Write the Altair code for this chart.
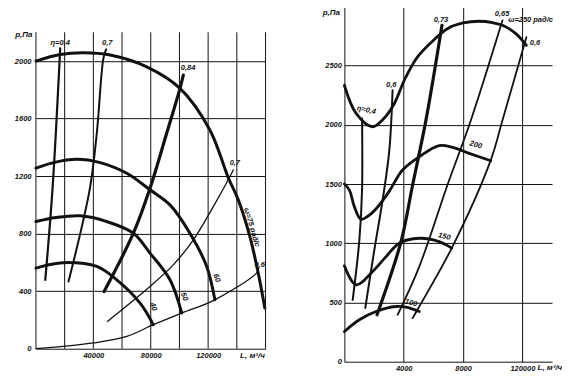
import altair as alt
import pandas as pd

FONT = "Liberation Sans"
INK = "#111111"

# ---------------- Left panel (L, m3/h ; p, Pa) ----------------
# pressure curves (omega = 75, 60, 50, 40 rad/s)
w75_L = [0, 16900, 33100, 51700, 77200, 100400, 121200, 134000, 141000, 149100, 154900, 159500]
w75_p = [2000, 2046, 2058, 2042, 1960, 1810, 1521, 1190, 1035, 780, 526, 283]
w60_L = [0, 12200, 28500, 44700, 63300, 79500, 93400, 107300, 119000, 124700]
w60_p = [1255, 1294, 1317, 1294, 1220, 1105, 1000, 803, 572, 340]
w50_L = [0, 14000, 30800, 49400, 67900, 79500, 93400, 101600]
w50_p = [884, 912, 924, 884, 803, 665, 479, 248]
w40_L = [0, 10000, 21600, 42400, 56300, 72600, 81800]
w40_p = [560, 585, 599, 572, 479, 317, 167]
# efficiency lines
e04_L = [16900, 11500, 6500]
e04_p = [2088, 1104, 479]
e07a_L = [48900, 47000, 42400, 37400, 22700]
e07a_p = [2081, 2019, 1498, 1104, 467]
e084_L = [102700, 100400, 91100, 79500, 67900, 47500]
e084_p = [1903, 1810, 1498, 1116, 803, 398]
e07b_L = [137500, 135200, 123600, 109700, 95700, 79500, 49800]
e07b_p = [1243, 1197, 988, 757, 583, 433, 190]
e06_L = [0, 40100, 63300, 81800, 101600, 124700, 153700, 155200]
e06_p = [0, 40, 85, 167, 248, 340, 526, 560]

left_lab_t = ["η=0,4", "0,7", "0,84", "0,7", "0,6", "40", "50", "60", "ω=75 рад/с"]
left_lab_L = [16900, 49700, 106000, 138600, 156000, 81700, 103200, 125900, 150300]
left_lab_p = [2125, 2125, 1951, 1292, 583, 292, 361, 491, 844]
left_lab_a = [0, 0, 0, 0, 0, 70, 70, 70, 74]

# ---------------- Right panel ----------------
w250_L = [0, 7900, 19000, 26000, 33700, 40400, 49300, 60600, 70000, 80000, 90900, 100000, 106600, 115600, 122700]
w250_p = [2334, 2096, 1983, 2045, 2180, 2376, 2573, 2720, 2815, 2860, 2874, 2862, 2840, 2770, 2671]
w200_L = [0, 3400, 6700, 11200, 16000, 22000, 30300, 39200, 50500, 63900, 72900, 84100, 98700]
w200_p = [1500, 1449, 1309, 1203, 1230, 1300, 1440, 1618, 1730, 1825, 1809, 1759, 1696]
w150_L = [0, 7900, 19000, 28100, 37000, 50500, 63900, 72300]
w150_p = [809, 649, 761, 887, 1000, 1042, 1014, 960]
w100_L = [0, 10100, 21300, 34800, 41500, 50500]
w100_p = [255, 354, 424, 466, 461, 424]
r04_L = [11900, 11900, 10100, 5600]
r04_p = [2054, 1449, 1028, 522]
r06_L = [32500, 30300, 26300, 20200, 14100]
r06_p = [2292, 1786, 1407, 944, 455]
r073_L = [65800, 55000, 46000, 38200, 22000]
r073_p = [2840, 2039, 1492, 1014, 396]
r065_L = [106600, 85300, 69500, 50500, 35900]
r065_p = [2882, 2039, 1492, 803, 396]
r06b_L = [122700, 106600, 98700, 72900, 50500, 46000]
r06b_p = [2740, 2039, 1702, 972, 466, 368]

right_lab_t = ["η=0,4", "0,6", "0,73", "0,65", "ω=250 рад/с", "0,6", "200", "150", "100"]
right_lab_L = [14800, 31600, 65100, 106300, 125500, 128500, 88600, 67300, 44900]
right_lab_p = [2123, 2334, 2882, 2932, 2885, 2688, 1829, 1056, 495]
right_lab_a = [12, 0, 0, 0, 0, 0, 15, 15, 15]

# axis tick labels / grid
ly_top = 2200
lx_vals = [40000, 80000, 120000]
lx_text = ["40000", "80000", "120000"]
ly_vals = [0, 400, 800, 1200, 1600, 2000]
ly_text = ["0", "400", "800", "1200", "1600", "2000"]
rx_vals = [40000, 80000, 120000]
rx_text = ["4000", "8000", "120000"]
ry_vals = [0, 500, 1000, 1500, 2000, 2500]
ry_text = ["0", "500", "1000", "1500", "2000", "2500"]

# left plot area is drawn taller than its grid so that its grid starts lower than the right one
LEFT_H = 343
LEFT_GRID_H = 317
RIGHT_H = 356
left_ymax = ly_top * LEFT_H / LEFT_GRID_H


def series(name, L, p, w):
    return pd.DataFrame({"s": name, "L": L, "p": p, "w": w, "o": list(range(len(L)))})


def label_expr(vals, texts):
    parts = [f"datum.value == {v} ? '{t}'" for v, t in zip(vals, texts)]
    return " : ".join(parts) + " : ''"


left_df = pd.concat([
    series("w75", w75_L, w75_p, 3.0), series("w60", w60_L, w60_p, 3.0),
    series("w50", w50_L, w50_p, 3.0), series("w40", w40_L, w40_p, 3.0),
    series("e04", e04_L, e04_p, 2.2), series("e07a", e07a_L, e07a_p, 2.0),
    series("e084", e084_L, e084_p, 3.2), series("e07b", e07b_L, e07b_p, 1.3),
    series("e06", e06_L, e06_p, 1.3),
])
right_df = pd.concat([
    series("w250", w250_L, w250_p, 2.8), series("w200", w200_L, w200_p, 2.8),
    series("w150", w150_L, w150_p, 2.8), series("w100", w100_L, w100_p, 2.8),
    series("r04", r04_L, r04_p, 2.0), series("r06", r06_L, r06_p, 2.0),
    series("r073", r073_L, r073_p, 3.2), series("r065", r065_L, r065_p, 1.8),
    series("r06b", r06b_L, r06b_p, 1.8),
])
left_lab = pd.DataFrame({"t": left_lab_t, "L": left_lab_L, "p": left_lab_p, "a": left_lab_a})
right_lab = pd.DataFrame({"t": right_lab_t, "L": right_lab_L, "p": right_lab_p, "a": right_lab_a})

common_axis = dict(
    ticks=False, domain=False, gridColor=INK, gridWidth=1, gridOpacity=1,
    labelFont=FONT, labelFontStyle="italic", labelFontWeight="bold", labelFontSize=7.5,
    labelColor=INK, labelFlush=False, labelOverlap=False,
    titleFont=FONT, titleFontStyle="italic", titleFontWeight="bold", titleFontSize=8,
    titleColor=INK, titleAngle=0, titleBaseline="middle",
)


def panel(df, lab, xmax, ymax, ydom, ystep, xv, xt, yv, yt, w, h, xtx, xty, ytx, yty,
          lpx, lpy, xgrid_axis):
    x = alt.X("L:Q", scale=alt.Scale(domain=[0, xmax], nice=False, zero=False),
              axis=alt.Axis(values=list(range(0, xmax + 1, 20000)), labelExpr=label_expr(xv, xt),
                            grid=xgrid_axis,
                            labelPadding=lpx, title="L, м³/ч", titleX=xtx, titleY=xty,
                            titleAlign="left", **common_axis))
    y = alt.Y("p:Q", scale=alt.Scale(domain=[0, ydom], nice=False, zero=False),
              axis=alt.Axis(values=list(range(0, ymax + 1, ystep)), labelExpr=label_expr(yv, yt),
                            grid=True,
                            labelPadding=lpy, title="р,Па", titleX=ytx, titleY=yty,
                            titleAlign="right", **common_axis))
    lines = alt.Chart(df).mark_line(interpolate="catmull-rom", color=INK, strokeCap="round",
                                    strokeJoin="round").encode(
        x=x, y=y, detail="s:N", order="o:Q",
        strokeWidth=alt.StrokeWidth("w:Q", scale=None))
    text = alt.Chart(lab).mark_text(font=FONT, fontStyle="italic", fontWeight="bold",
                                    fontSize=7.5, color=INK, align="center",
                                    baseline="middle").encode(
        x="L:Q", y="p:Q", text="t:N", angle=alt.Angle("a:Q", scale=None))
    layers = [lines, text]
    if not xgrid_axis:
        vg = alt.Chart(pd.DataFrame({"g": list(range(0, xmax + 1, 20000))})).mark_rule(
            color=INK, strokeWidth=1).encode(
            x="g:Q", y=alt.datum(0), y2=alt.datum(ymax))
        layers = [vg] + layers
    return alt.layer(*layers).properties(width=w, height=h)


left = panel(left_df, left_lab, 160000, ly_top, left_ymax, 200, lx_vals, lx_text, ly_vals, ly_text,
             230, LEFT_H, 204, 7, -4, 28, 3, 5, False)
right = panel(right_df, right_lab, 140000, 3000, 3000, 250, rx_vals, rx_text, ry_vals, ry_text,
              208, RIGHT_H, 193, 6, -5, 6, 3, 3, True)

chart = alt.hconcat(left, right, spacing=55).properties(
    padding={"left": 6, "top": -6, "right": 0, "bottom": 0}
).configure_view(stroke=None)

chart.save("out.html", embed_options={"renderer": "svg", "actions": False})
